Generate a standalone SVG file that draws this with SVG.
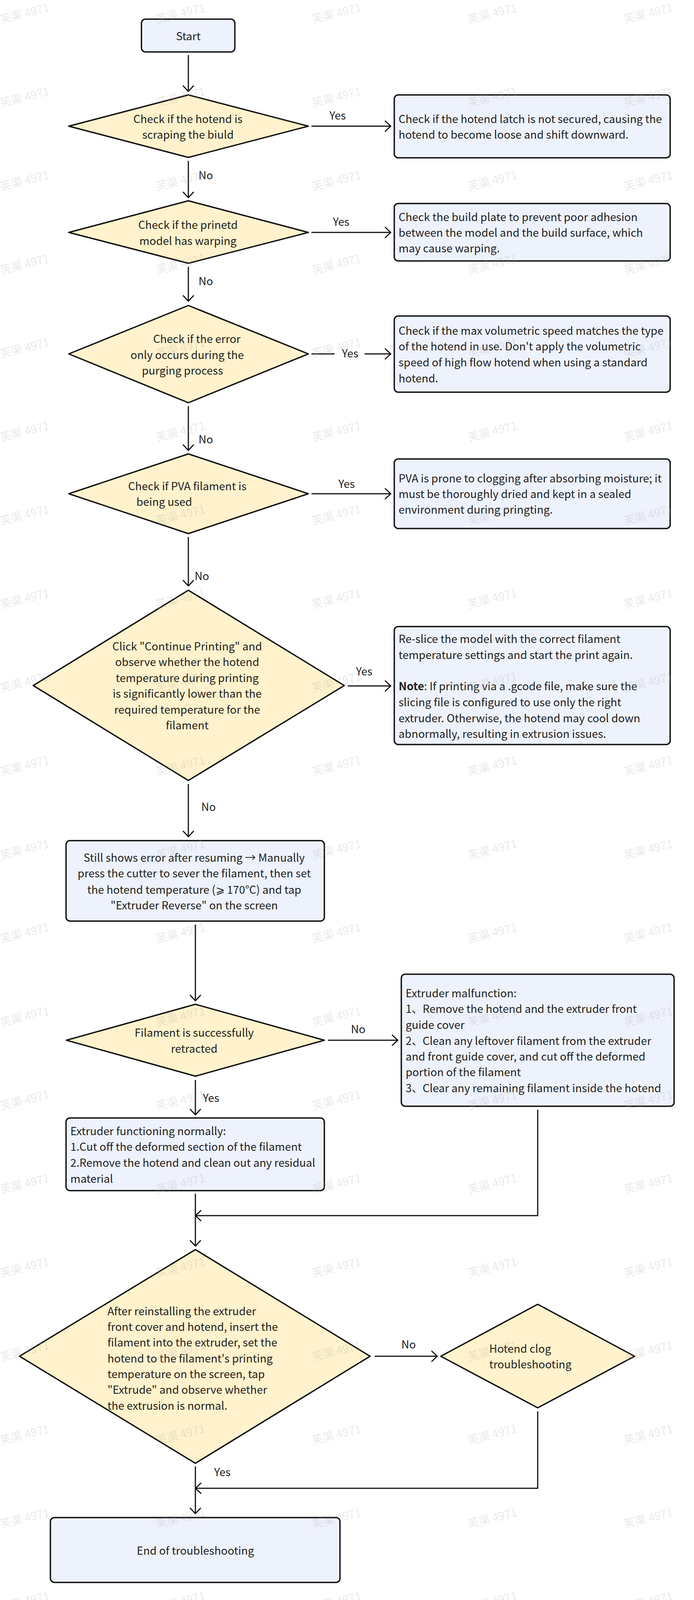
<svg xmlns="http://www.w3.org/2000/svg" width="1776" height="4102" viewBox="0 0 1776 4102">
<style>
.t{font-family:"Noto Sans CJK SC","Source Han Sans SC","Noto Sans",sans-serif;font-size:28px;fill:#1f1f1f}
.m{text-anchor:middle}
.box{fill:#eef2fc;stroke:#111;stroke-width:3.5}
.dia{fill:#fff2cc;stroke:#111;stroke-width:3.5;stroke-linejoin:round}
.c{fill:none;stroke:#111;stroke-width:3}
.wm{font-family:"Noto Sans CJK SC",sans-serif;font-size:29px;fill:#9a9a9a}
</style>
<defs>
<marker id="ah" markerUnits="userSpaceOnUse" viewBox="-17 -16 19 32" markerWidth="19" markerHeight="32" refX="0" refY="0" orient="auto">
<path d="M-14,-13 L0,0 L-14,13" fill="none" stroke="#111" stroke-width="3" stroke-linecap="round" stroke-linejoin="round"/>
</marker>
<pattern id="wmp" patternUnits="userSpaceOnUse" x="0" y="0" width="399" height="214">
<text class="wm" x="63" y="45" text-anchor="middle" transform="rotate(-14 63 35)">芙渠 4971</text>
</pattern>
</defs>
<rect width="1776" height="4102" fill="#fff"/>

<g id="connectors">
<line class="c" x1="482" y1="141" x2="482" y2="234" marker-end="url(#ah)"/>
<line class="c" x1="797" y1="323" x2="1000" y2="323" marker-end="url(#ah)"/>
<line class="c" x1="482" y1="412" x2="482" y2="506" marker-end="url(#ah)"/>
<line class="c" x1="797" y1="595" x2="1000" y2="595" marker-end="url(#ah)"/>
<line class="c" x1="482" y1="683" x2="482" y2="771" marker-end="url(#ah)"/>
<line class="c" x1="797" y1="906" x2="856" y2="906"/>
<line class="c" x1="933" y1="906" x2="1000" y2="906" marker-end="url(#ah)"/>
<line class="c" x1="482" y1="1040" x2="482" y2="1153" marker-end="url(#ah)"/>
<line class="c" x1="797" y1="1264" x2="1000" y2="1264" marker-end="url(#ah)"/>
<line class="c" x1="482" y1="1375" x2="482" y2="1500" marker-end="url(#ah)"/>
<line class="c" x1="890" y1="1756" x2="1000" y2="1756" marker-end="url(#ah)"/>
<line class="c" x1="482" y1="2007" x2="482" y2="2142" marker-end="url(#ah)"/>
<line class="c" x1="500" y1="2367" x2="500" y2="2562" marker-end="url(#ah)"/>
<line class="c" x1="839" y1="2663" x2="1018" y2="2663" marker-end="url(#ah)"/>
<line class="c" x1="500" y1="2765" x2="500" y2="2854" marker-end="url(#ah)"/>
<line class="c" x1="500" y1="3056" x2="500" y2="3190" marker-end="url(#ah)"/>
<polyline class="c" points="1376,2841 1376,3112 500,3112" marker-end="url(#ah)"/>
<line class="c" x1="959" y1="3472" x2="1119" y2="3472" marker-end="url(#ah)"/>
<polyline class="c" points="1376,3613 1376,3810 500,3810" marker-end="url(#ah)"/>
<line class="c" x1="500" y1="3754" x2="500" y2="3875" marker-end="url(#ah)"/>
<text class="t" x="843" y="306">Yes</text>
<text class="t" x="508" y="459">No</text>
<text class="t" x="852" y="578">Yes</text>
<text class="t" x="508" y="730">No</text>
<text class="t" x="875" y="915">Yes</text>
<text class="t" x="508" y="1135">No</text>
<text class="t" x="866" y="1249">Yes</text>
<text class="t" x="498" y="1485">No</text>
<text class="t" x="911" y="1729">Yes</text>
<text class="t" x="515" y="2076">No</text>
<text class="t" x="898" y="2645">No</text>
<text class="t" x="519" y="2821">Yes</text>
<text class="t" x="1027" y="3452">No</text>
<text class="t" x="548" y="3779">Yes</text>
</g>

<g id="start">
<rect class="box" x="362" y="49" width="239" height="84" rx="10"/>
<text class="t m" x="482" y="103">Start</text>
</g>

<g id="d1">
<polygon class="dia" points="482,243 789,323 482,403 176,323"/>
<text class="t m" x="481" y="315">Check if the hotend is</text>
<text class="t m" x="481" y="355">scraping the biuld</text>
</g>
<g id="b1">
<rect class="box" x="1009" y="243" width="706" height="161" rx="10"/>
<text class="t" x="1020" y="315">Check if the hotend latch is not secured, causing the</text>
<text class="t" x="1020" y="355">hotend to become loose and shift downward.</text>
</g>

<g id="d2">
<polygon class="dia" points="482,514 789,595 482,674 176,595"/>
<text class="t m" x="481" y="586">Check if the prinetd</text>
<text class="t m" x="481" y="627">model has warping</text>
</g>
<g id="b2">
<rect class="box" x="1009" y="521" width="706" height="147" rx="10"/>
<text class="t" x="1020" y="566">Check the build plate to prevent poor adhesion</text>
<text class="t" x="1020" y="606">between the model and the build surface, which</text>
<text class="t" x="1020" y="646">may cause warping.</text>
</g>

<g id="d3">
<polygon class="dia" points="482,782 789,906 482,1031 176,906"/>
<text class="t" x="392" y="878">Check if the error</text>
<text class="t" x="334" y="919">only occurs during the</text>
<text class="t" x="363" y="959">purging process</text>
</g>
<g id="b3">
<rect class="box" x="1009" y="809" width="706" height="195" rx="10"/>
<text class="t" x="1020" y="857">Check if the max volumetric speed matches the type</text>
<text class="t" x="1020" y="897">of the hotend in use. Don't apply the volumetric</text>
<text class="t" x="1020" y="938">speed of high flow hotend when using a standard</text>
<text class="t" x="1020" y="979">hotend.</text>
</g>

<g id="d4">
<polygon class="dia" points="482,1162 789,1264 482,1366 176,1264"/>
<text class="t" x="328" y="1255">Check if PVA filament is</text>
<text class="t" x="349" y="1295">being used</text>
</g>
<g id="b4">
<rect class="box" x="1009" y="1175" width="706" height="178" rx="10"/>
<text class="t" x="1020" y="1235">PVA is prone to clogging after absorbing moisture; it</text>
<text class="t" x="1020" y="1275">must be thoroughly dried and kept in a sealed</text>
<text class="t" x="1020" y="1315">environment during pringting.</text>
</g>

<g id="d5">
<polygon class="dia" points="482,1511 881,1755 482,1998 85,1755"/>
<text class="t m" x="479" y="1665">Click "Continue Printing" and</text>
<text class="t m" x="479" y="1705">observe whether the hotend</text>
<text class="t m" x="479" y="1746">temperature during printing</text>
<text class="t m" x="479" y="1786">is significantly lower than the</text>
<text class="t m" x="479" y="1827">required temperature for the</text>
<text class="t m" x="479" y="1867">filament</text>
</g>
<g id="b5">
<rect class="box" x="1009" y="1604" width="706" height="302" rx="10"/>
<text class="t" x="1020" y="1646">Re-slice the model with the correct filament</text>
<text class="t" x="1020" y="1687">temperature settings and start the print again.</text>
<text class="t" x="1020" y="1767"><tspan font-weight="bold">Note</tspan>: If printing via a .gcode file, make sure the</text>
<text class="t" x="1020" y="1808">slicing file is configured to use only the right</text>
<text class="t" x="1020" y="1849">extruder. Otherwise, the hotend may cool down</text>
<text class="t" x="1020" y="1889">abnormally, resulting in extrusion issues.</text>
</g>

<g id="b6">
<rect class="box" x="169" y="2152" width="661" height="206" rx="10"/>
<text class="t m" x="497" y="2206">Still shows error after resuming → Manually</text>
<text class="t m" x="497" y="2246">press the cutter to sever the filament, then set</text>
<text class="t m" x="497" y="2288">the hotend temperature (⩾ 170°C) and tap</text>
<text class="t m" x="497" y="2328">"Extruder Reverse" on the screen</text>
</g>

<g id="d7">
<polygon class="dia" points="500,2571 830,2663 500,2755 170,2663"/>
<text class="t m" x="497" y="2654">Filament is successfully</text>
<text class="t m" x="497" y="2695">retracted</text>
</g>
<g id="b7">
<rect class="box" x="1027" y="2494" width="698" height="338" rx="10"/>
<text class="t" x="1038" y="2553">Extruder malfunction:</text>
<text class="t" x="1038" y="2593">1、Remove the hotend and the extruder front</text>
<text class="t" x="1038" y="2634">guide cover</text>
<text class="t" x="1038" y="2675">2、Clean any leftover filament from the extruder</text>
<text class="t" x="1038" y="2715">and front guide cover, and cut off the deformed</text>
<text class="t" x="1038" y="2755">portion of the filament</text>
<text class="t" x="1038" y="2796">3、Clear any remaining filament inside the hotend</text>
</g>

<g id="b8">
<rect class="box" x="169" y="2862" width="661" height="186" rx="10"/>
<text class="t" x="180" y="2906">Extruder functioning normally:</text>
<text class="t" x="180" y="2946">1.Cut off the deformed section of the filament</text>
<text class="t" x="180" y="2987">2.Remove the hotend and clean out any residual</text>
<text class="t" x="180" y="3028">material</text>
</g>

<g id="d9">
<polygon class="dia" points="500,3199 947,3472 500,3746 50,3472"/>
<text class="t" x="275" y="3367">After reinstalling the extruder</text>
<text class="t" x="275" y="3407">front cover and hotend, insert the</text>
<text class="t" x="275" y="3447">filament into the extruder, set the</text>
<text class="t" x="275" y="3488">hotend to the filament's printing</text>
<text class="t" x="275" y="3528">temperature on the screen, tap</text>
<text class="t" x="275" y="3568">"Extrude" and observe whether</text>
<text class="t" x="275" y="3609">the extrusion is normal.</text>
</g>

<g id="d10">
<polygon class="dia" points="1376,3339 1624,3472 1376,3604 1128,3472"/>
<text class="t" x="1252" y="3463">Hotend clog</text>
<text class="t" x="1252" y="3503">troubleshooting</text>
</g>

<g id="end">
<rect class="box" x="129" y="3885" width="741" height="166" rx="10"/>
<text class="t m" x="500" y="3980">End of troubleshooting</text>
</g>

<rect id="watermark" width="1776" height="4102" fill="url(#wmp)" opacity="0.22"/>
</svg>
